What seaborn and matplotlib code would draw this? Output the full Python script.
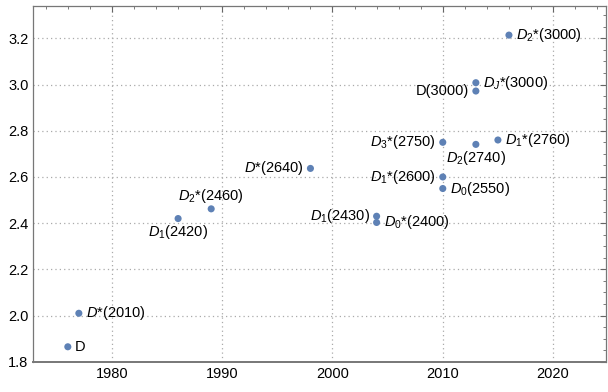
import numpy as np
import pandas as pd
import matplotlib.pyplot as plt
import seaborn as sns
from matplotlib.ticker import MultipleLocator

sns.set_theme(style="white")
plt.rcParams['font.family'] = ['Liberation Sans', 'DejaVu Sans']
plt.rcParams['mathtext.fontset'] = 'custom'
plt.rcParams['mathtext.rm'] = 'Liberation Sans'
plt.rcParams['mathtext.it'] = 'Liberation Sans:italic'

# discovery year vs mass (GeV) of D mesons
years = [1976, 1977, 1986, 1989, 1998, 2004, 2004, 2010, 2010, 2010,
         2013, 2015, 2013, 2013, 2016]
masses = [1.865, 2.010, 2.420, 2.462, 2.637, 2.430, 2.403, 2.750, 2.600, 2.550,
          2.741, 2.760, 3.008, 2.972, 3.214]
labels = ["D", r"$D$*(2010)", r"$D_1$(2420)", r"$D_2$*(2460)", r"$D$*(2640)",
          r"$D_1$(2430)", r"$D_0$*(2400)", r"$D_3$*(2750)", r"$D_1$*(2600)",
          r"$D_0$(2550)", r"$D_2$(2740)", r"$D_1$*(2760)", r"$D_J$*(3000)",
          "D(3000)", r"$D_2$*(3000)"]

# where each label sits relative to its point
side = {r"$D_1$(2420)": "below", r"$D_2$*(2460)": "above", r"$D$*(2640)": "left",
        r"$D_1$(2430)": "left", r"$D_3$*(2750)": "left", r"$D_1$*(2600)": "left",
        r"$D_2$(2740)": "below", "D(3000)": "left"}

df = pd.DataFrame({"year": years, "mass": masses, "label": labels})

fig, ax = plt.subplots(figsize=(6.08, 3.92), dpi=100)
fig.subplots_adjust(left=0.0535, right=0.9967, bottom=0.0753, top=0.9847)

sns.scatterplot(data=df, x="year", y="mass", color="#5E81B5", s=26,
                edgecolor="none", ax=ax, zorder=3)

offs = {"right": ((5.0, 0), "left", "center"),
        "left": ((-5.0, 0), "right", "center"),
        "below": ((0, -10), "center", "center"),
        "above": ((0, 9), "center", "center")}
for x, y, t in zip(years, masses, labels):
    o, ha, va = offs[side.get(t, "right")]
    ax.annotate(t, (x, y), xytext=o, textcoords="offset points",
                ha=ha, va=va, fontsize=10.5, color="black")

ax.set_xlim(1972.8, 2024.8)
ax.set_ylim(1.797, 3.34)
ax.xaxis.set_major_locator(MultipleLocator(10))
ax.xaxis.set_minor_locator(MultipleLocator(2))
ax.yaxis.set_major_locator(MultipleLocator(0.2))
ax.yaxis.set_minor_locator(MultipleLocator(0.05))
ax.yaxis.set_major_formatter(plt.FormatStrFormatter("%.1f"))
ax.set_xlabel("")
ax.set_ylabel("")

ax.grid(True, which="major", linestyle=(0, (1, 2.5)), color="#aaaaaa", linewidth=0.9)
ax.tick_params(which="both", direction="in", top=True, right=True,
               color="#666666", labelsize=10.5, labelcolor="black", pad=3)
ax.tick_params(which="major", length=4.5, width=0.8)
ax.tick_params(which="minor", length=2.5, width=0.6)
for sp in ax.spines.values():
    sp.set_color("#777777")
    sp.set_linewidth(0.9)
ax.spines["bottom"].set_linewidth(1.4)

plt.savefig("out.png", dpi=100)
